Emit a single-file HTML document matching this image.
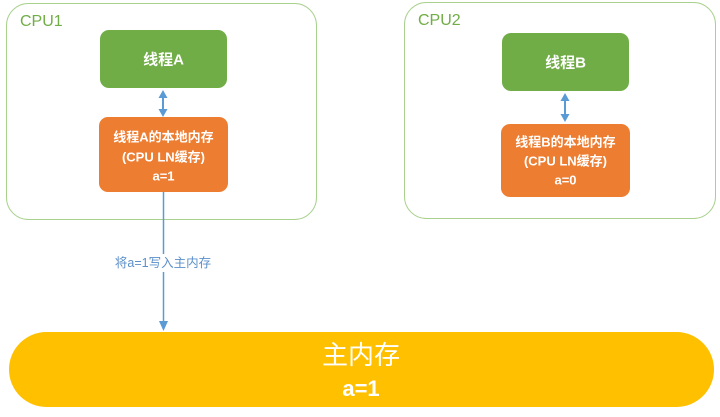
<!DOCTYPE html>
<html><head><meta charset="utf-8"><style>
html,body{margin:0;padding:0;background:#fff;width:720px;height:417px;overflow:hidden}
svg{display:block}
text{font-family:"Liberation Sans","Noto Sans CJK SC",sans-serif}
</style></head><body>
<svg width="720" height="417" viewBox="0 0 720 417" xmlns="http://www.w3.org/2000/svg">
<!-- CPU1 -->
<rect x="6.5" y="3.5" width="310" height="216" rx="22" fill="#fff" stroke="#A9D18E" stroke-width="1"/>
<text x="20" y="26" font-size="16" fill="#70AD47">CPU1</text>
<rect x="100" y="30" width="127" height="58" rx="9" fill="#70AD47"/>
<text x="163.5" y="64.5" font-size="15" font-weight="bold" fill="#fff" text-anchor="middle">线程A</text>
<line x1="163" y1="96" x2="163" y2="111" stroke="#5B9BD5" stroke-width="2"/>
<path d="M158.5,98 L163,90 L167.5,98 z" fill="#5B9BD5"/>
<path d="M158.5,109 L163,117 L167.5,109 z" fill="#5B9BD5"/>
<rect x="99" y="117" width="129" height="75" rx="9" fill="#ED7D31"/>
<text x="163.5" y="141.5" font-size="13" font-weight="bold" fill="#fff" text-anchor="middle">线程A的本地内存</text>
<text x="163.5" y="161.5" font-size="13" font-weight="bold" fill="#fff" text-anchor="middle">(CPU LN缓存)</text>
<text x="163.5" y="180.5" font-size="13" font-weight="bold" fill="#fff" text-anchor="middle">a=1</text>
<!-- CPU2 -->
<rect x="404.5" y="2.5" width="311" height="216" rx="22" fill="#fff" stroke="#A9D18E" stroke-width="1"/>
<text x="418" y="25" font-size="16" fill="#70AD47">CPU2</text>
<rect x="502" y="33" width="127" height="58" rx="9" fill="#70AD47"/>
<text x="565.5" y="67.5" font-size="15" font-weight="bold" fill="#fff" text-anchor="middle">线程B</text>
<line x1="565" y1="99" x2="565" y2="116" stroke="#5B9BD5" stroke-width="2"/>
<path d="M560.5,101 L565,93 L569.5,101 z" fill="#5B9BD5"/>
<path d="M560.5,114 L565,122 L569.5,114 z" fill="#5B9BD5"/>
<rect x="501" y="124" width="129" height="73" rx="9" fill="#ED7D31"/>
<text x="565.5" y="146.5" font-size="13" font-weight="bold" fill="#fff" text-anchor="middle">线程B的本地内存</text>
<text x="565.5" y="165.5" font-size="13" font-weight="bold" fill="#fff" text-anchor="middle">(CPU LN缓存)</text>
<text x="565.5" y="184.5" font-size="13" font-weight="bold" fill="#fff" text-anchor="middle">a=0</text>
<!-- connector -->
<line x1="163.5" y1="192" x2="163.5" y2="254" stroke="#5B9BD5" stroke-width="1.5"/>
<line x1="163.5" y1="272" x2="163.5" y2="322" stroke="#5B9BD5" stroke-width="1.5"/>
<path d="M159,321 L163.5,331 L168,321 z" fill="#5B9BD5"/>
<text x="163" y="267" font-size="12.5" fill="#5B8FC9" text-anchor="middle">将a=1写入主内存</text>
<!-- main memory -->
<rect x="9" y="332" width="705" height="75" rx="37.5" fill="#FFC000"/>
<text x="361" y="364" font-size="26" fill="#fff" text-anchor="middle">主内存</text>
<text x="361" y="396" font-size="22" font-weight="bold" fill="#fff" text-anchor="middle">a=1</text>
</svg>
</body></html>
